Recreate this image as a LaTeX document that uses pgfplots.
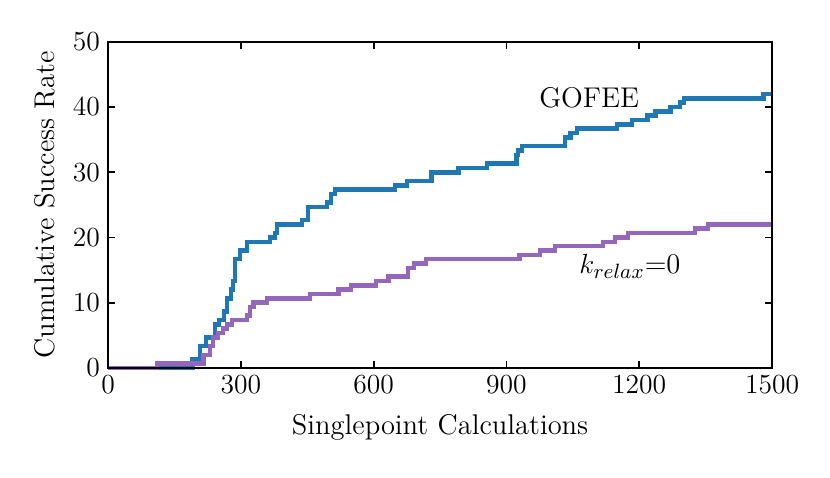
\documentclass[border=0pt]{standalone}
\usepackage{pgfplots}
\pgfplotsset{compat=1.18}
\definecolor{tabblue}{HTML}{1F77B4}
\definecolor{tabpurple}{HTML}{9467BD}
\begin{document}
\begin{tikzpicture}[font=\fontsize{12.4}{15}\selectfont]
\begin{axis}[
  scale only axis,
  width=288.8pt, height=141.8pt,
  xmin=0, xmax=1500, ymin=0, ymax=50,
  xtick={0,300,600,900,1200,1500},
  ytick={0,10,20,30,40,50},
  /pgf/number format/1000 sep={},
  tick label style={font=\fontsize{12.4}{15}\selectfont},
  label style={font=\fontsize{12.4}{15}\selectfont},
  tick align=inside,
  xtick pos=both, ytick pos=both,
  major tick length=3pt,
  tick style={black, line width=0.8pt},
  axis line style={line width=1pt},
  axis on top,
  xlabel={Singlepoint Calculations},
  ylabel={Cumulative Success Rate},
  xlabel style={yshift=-2pt},
  ylabel style={yshift=1pt},
  clip=false,
]
\addplot[const plot, tabblue, line width=2pt] coordinates {
(0,0) (191,1.33) (208,3.33) (221,4.67) (242,6.67) (251,7.33) (262,8.67) (269,10.67) (278,12) (282,13.33) (287,16.67) (298,18) (314,19.33) (366,20) (377,20.67) (382,22) (438,22.67) (452,24.67) (495,25.33) (504,26.67) (513,27.33) (648,28) (675,28.67) (730,30) (791,30.67) (856,31.33) (922,32.67) (926,33.33) (935,34) (1032,35.33) (1044,36) (1059,36.67) (1150,37.33) (1184,38) (1218,38.67) (1236,39.33) (1270,40) (1292,40.67) (1301,41.33) (1480,42) (1500,42)
};
\addplot[const plot, tabpurple, line width=2pt] coordinates {
(0,0) (111,0.67) (215,2) (230,3.33) (237,4.67) (248,5.33) (260,6.0) (269,6.67) (280,7.33) (314,8) (321,9.33) (328,10) (359,10.67) (456,11.33) (520,12) (549,12.67) (605,13.33) (633,14) (678,15.33) (691,16) (718,16.67) (930,17.33) (976,18) (1010,18.67) (1118,19.33) (1145,20) (1175,20.67) (1326,21.33) (1355,22) (1500,22)
};
\node at (axis cs:1087,41.4) {GOFEE};
\node at (axis cs:1179,15.5) {$k_{relax}$=0};
\end{axis}
\path[use as bounding box] (-47pt,-47.8pt) rectangle (314pt,160pt);
\end{tikzpicture}
\end{document}
